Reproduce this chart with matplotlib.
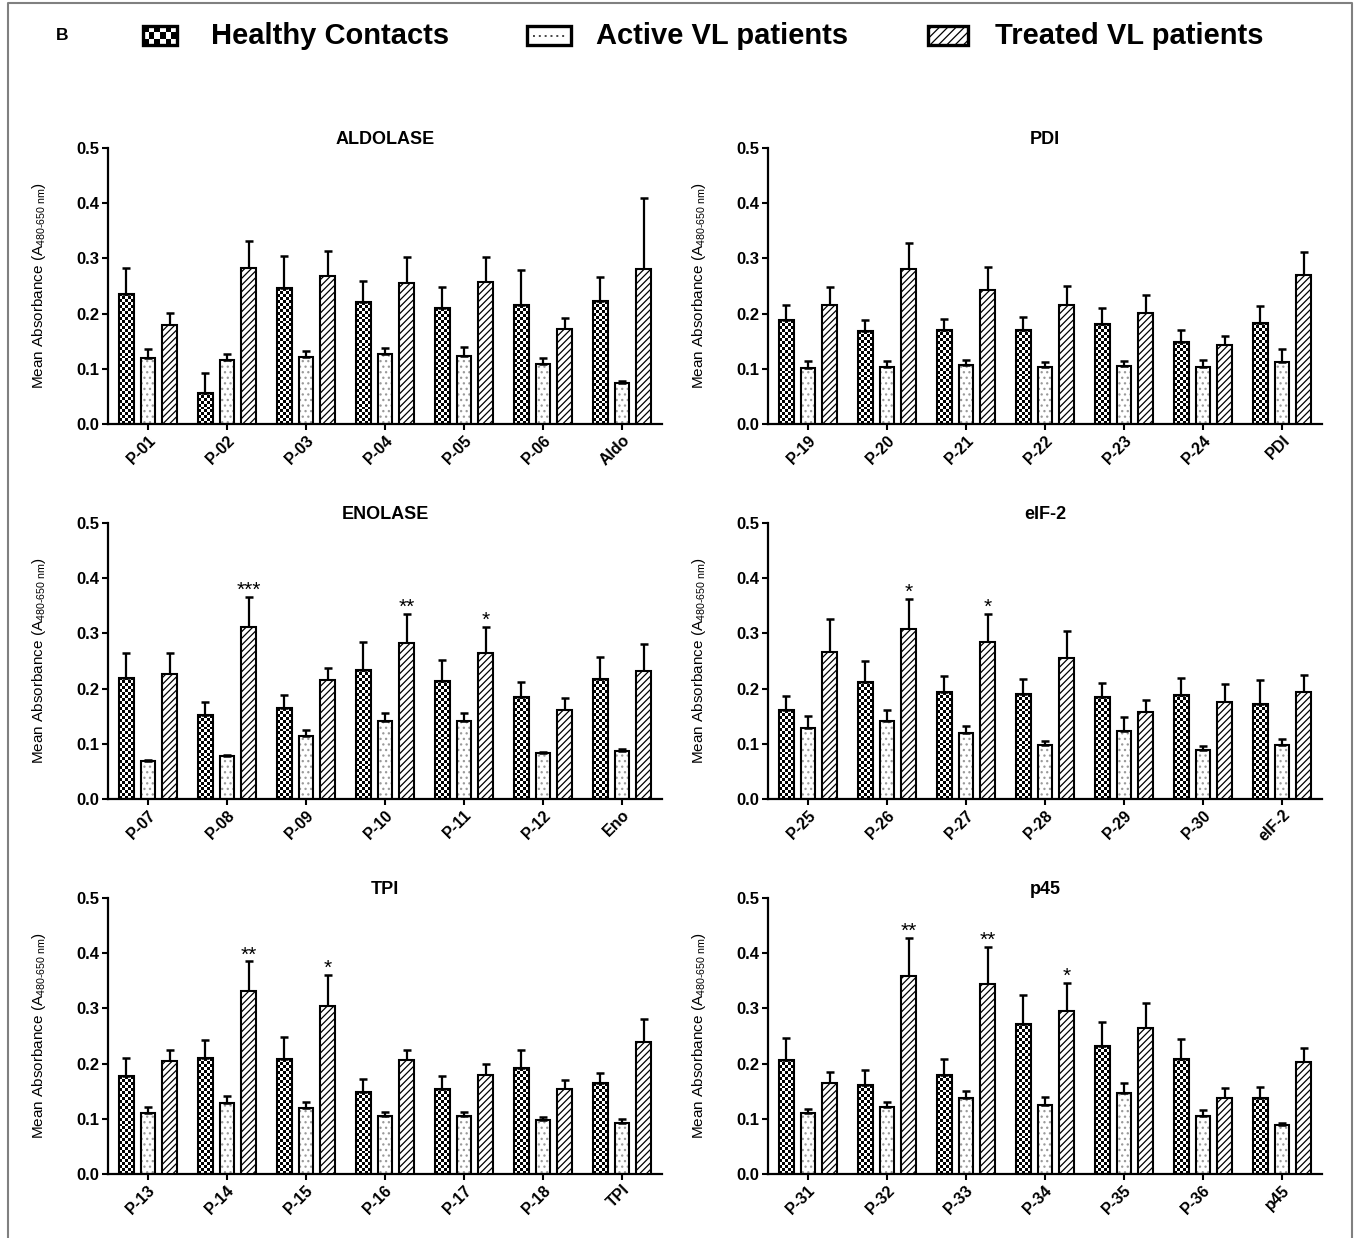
import numpy as np
import matplotlib
matplotlib.use('Agg')
import matplotlib.pyplot as plt
from matplotlib.patches import Rectangle
from matplotlib.lines import Line2D

plt.rcParams['font.family'] = ['Liberation Sans', 'DejaVu Sans']
plt.rcParams['mathtext.fontset'] = 'custom'
plt.rcParams['mathtext.rm'] = 'Liberation Sans'
plt.rcParams['mathtext.it'] = 'Liberation Sans:italic'
plt.rcParams['mathtext.bf'] = 'Liberation Sans:bold'
plt.rcParams['hatch.linewidth'] = 0.9

# ---- data (mean absorbance and SEM) ----
aldo_labels = ['P-01', 'P-02', 'P-03', 'P-04', 'P-05', 'P-06', 'Aldo']
aldo_hc = [0.236, 0.057, 0.246, 0.221, 0.210, 0.215, 0.222]
aldo_hc_sem = [0.047, 0.036, 0.058, 0.038, 0.038, 0.064, 0.045]
aldo_av = [0.119, 0.116, 0.121, 0.126, 0.124, 0.108, 0.075]
aldo_av_sem = [0.017, 0.011, 0.012, 0.011, 0.015, 0.012, 0.002]
aldo_tr = [0.179, 0.282, 0.269, 0.256, 0.257, 0.172, 0.281]
aldo_tr_sem = [0.022, 0.049, 0.045, 0.046, 0.046, 0.020, 0.128]
aldo_stars = ['', '', '', '', '', '', '']

pdi_labels = ['P-19', 'P-20', 'P-21', 'P-22', 'P-23', 'P-24', 'PDI']
pdi_hc = [0.188, 0.168, 0.171, 0.171, 0.182, 0.148, 0.183]
pdi_hc_sem = [0.027, 0.021, 0.020, 0.023, 0.029, 0.022, 0.030]
pdi_av = [0.101, 0.104, 0.106, 0.103, 0.105, 0.103, 0.113]
pdi_av_sem = [0.013, 0.010, 0.010, 0.009, 0.010, 0.013, 0.023]
pdi_tr = [0.215, 0.280, 0.242, 0.215, 0.201, 0.143, 0.270]
pdi_tr_sem = [0.033, 0.047, 0.042, 0.035, 0.032, 0.017, 0.042]
pdi_stars = ['', '', '', '', '', '', '']

eno_labels = ['P-07', 'P-08', 'P-09', 'P-10', 'P-11', 'P-12', 'Eno']
eno_hc = [0.220, 0.152, 0.164, 0.234, 0.214, 0.185, 0.218]
eno_hc_sem = [0.045, 0.024, 0.025, 0.051, 0.038, 0.027, 0.039]
eno_av = [0.068, 0.077, 0.115, 0.141, 0.141, 0.083, 0.087]
eno_av_sem = [0.002, 0.002, 0.010, 0.014, 0.015, 0.003, 0.003]
eno_tr = [0.227, 0.312, 0.215, 0.282, 0.265, 0.161, 0.232]
eno_tr_sem = [0.038, 0.054, 0.023, 0.054, 0.047, 0.022, 0.048]
eno_stars = ['', '***', '', '**', '*', '', '']

eif_labels = ['P-25', 'P-26', 'P-27', 'P-28', 'P-29', 'P-30', 'eIF-2']
eif_hc = [0.161, 0.212, 0.193, 0.190, 0.185, 0.189, 0.172]
eif_hc_sem = [0.025, 0.038, 0.029, 0.028, 0.026, 0.030, 0.043]
eif_av = [0.128, 0.141, 0.120, 0.098, 0.123, 0.088, 0.097]
eif_av_sem = [0.022, 0.020, 0.012, 0.007, 0.025, 0.008, 0.011]
eif_tr = [0.266, 0.308, 0.285, 0.255, 0.158, 0.175, 0.193]
eif_tr_sem = [0.060, 0.055, 0.051, 0.050, 0.022, 0.033, 0.031]
eif_stars = ['', '*', '*', '', '', '', '']

tpi_labels = ['P-13', 'P-14', 'P-15', 'P-16', 'P-17', 'P-18', 'TPI']
tpi_hc = [0.177, 0.210, 0.208, 0.148, 0.154, 0.192, 0.164]
tpi_hc_sem = [0.033, 0.033, 0.040, 0.024, 0.023, 0.032, 0.019]
tpi_av = [0.110, 0.128, 0.119, 0.105, 0.105, 0.097, 0.093]
tpi_av_sem = [0.011, 0.013, 0.011, 0.007, 0.008, 0.007, 0.007]
tpi_tr = [0.205, 0.331, 0.304, 0.207, 0.180, 0.154, 0.239]
tpi_tr_sem = [0.020, 0.054, 0.057, 0.018, 0.020, 0.017, 0.041]
tpi_stars = ['', '**', '*', '', '', '', '']

p45_labels = ['P-31', 'P-32', 'P-33', 'P-34', 'P-35', 'P-36', 'p45']
p45_hc = [0.207, 0.161, 0.179, 0.272, 0.231, 0.209, 0.138]
p45_hc_sem = [0.040, 0.027, 0.030, 0.053, 0.044, 0.036, 0.020]
p45_av = [0.111, 0.121, 0.137, 0.125, 0.146, 0.105, 0.088]
p45_av_sem = [0.007, 0.009, 0.013, 0.014, 0.018, 0.011, 0.005]
p45_tr = [0.164, 0.359, 0.345, 0.296, 0.264, 0.137, 0.203]
p45_tr_sem = [0.021, 0.069, 0.067, 0.050, 0.045, 0.018, 0.026]
p45_stars = ['', '**', '**', '*', '', '', '']

legend_names = ['Healthy Contacts', 'Active VL patients', 'Treated VL patients']

W, H = 1357, 1238
fig = plt.figure(figsize=(W / 100, H / 100), dpi=100)

# overlay for frame + legend (pixel coords)
ov = fig.add_axes([0, 0, 1, 1])
ov.set_xlim(0, W)
ov.set_ylim(H, 0)
ov.axis('off')
ov.plot([8, 8, 1352, 1352], [H, 3, 3, H], color='#808080', lw=1.5)
ov.text(62, 36, 'B', fontsize=12.5, fontweight='bold', ha='center', va='center')


def checker(ax, x0, x1, y0, y1, ncols, nrows, z=1):
    img = np.indices((nrows, ncols)).sum(axis=0) % 2
    ax.imshow(img, cmap='gray', vmin=0, vmax=1, extent=(x0, x1, y0, y1),
              aspect='auto', interpolation='nearest', zorder=z)


# legend icons
checker(ov, 143, 177, 45, 26, 6, 3, z=2)
ov.add_patch(Rectangle((143, 26), 34, 19, fc='none', ec='black', lw=2.4, zorder=3))
ov.add_patch(Rectangle((527, 26), 44, 19, fc='white', ec='black', lw=2.4, zorder=3))
ov.add_line(Line2D([533, 566], [35.5, 35.5], color='#444444', lw=1.4, ls=(0, (1, 2)), zorder=4))
ov.add_patch(Rectangle((928, 26), 40, 19, fc='white', ec='black', lw=2.4, hatch='////', zorder=3))
for xt, name in zip([211, 596, 995], legend_names):
    ov.text(xt, 36, name, fontsize=21, fontweight='bold', ha='left', va='center')

ylab = r'Mean Absorbance (A$_{\mathregular{480\text{-}650\ nm}}$)'

offs = 0.274
bw = 0.186


def draw_panel(ax, title, labels, hc, hc_sem, av, av_sem, tr, tr_sem, stars):
    x = np.arange(len(labels))
    hc = np.array(hc)
    av = np.array(av)
    tr = np.array(tr)
    bb = ax.get_position()
    px_x = bb.width * W / 7.012
    px_y = bb.height * H / 0.5

    # healthy contacts: checkerboard fill
    for xi, v in zip(x - offs, hc):
        cell = bw * px_x / 5
        nrows = max(1, int(round(v * px_y / cell)))
        checker(ax, xi - bw / 2, xi + bw / 2, 0, v, 5, nrows)
    ax.bar(x - offs, hc, bw, facecolor='none', edgecolor='black', lw=1.5, zorder=3)

    # active VL: sparse grey dots
    ax.bar(x, av, bw, facecolor='white', edgecolor='#9a9a9a', hatch='...', lw=0, zorder=2)
    ax.bar(x, av, bw, facecolor='none', edgecolor='black', lw=1.5, zorder=3)

    # treated VL: diagonal hatch
    ax.bar(x + offs, tr, bw, facecolor='white', edgecolor='black', hatch='/////', lw=1.5, zorder=3)

    for xs, vals, sem in [(x - offs, hc, hc_sem), (x, av, av_sem), (x + offs, tr, tr_sem)]:
        ax.errorbar(xs, vals, yerr=[np.zeros(len(vals)), sem], fmt='none', ecolor='black',
                    elinewidth=1.6, capsize=2.6, capthick=1.8, zorder=2.5)

    for xi, v, s, st in zip(x + offs, tr, tr_sem, stars):
        if st:
            ax.annotate(st, xy=(xi, v + s), xytext=(0, 0.5), textcoords='offset points',
                        ha='center', va='baseline', fontsize=15)

    ax.set_xlim(-0.506, 6.506)
    ax.set_ylim(0, 0.5)
    ax.set_yticks([0.0, 0.1, 0.2, 0.3, 0.4, 0.5])
    ax.set_yticklabels(['0.0', '0.1', '0.2', '0.3', '0.4', '0.5'], fontsize=12, fontweight='bold')
    ax.set_xticks(x)
    ax.set_xticklabels(labels, rotation=45, ha='right', va='top', rotation_mode='anchor',
                       fontsize=11.5, fontweight='bold')
    for side in ['top', 'right']:
        ax.spines[side].set_visible(False)
    for side in ['left', 'bottom']:
        ax.spines[side].set_linewidth(1.6)
    ax.tick_params(axis='both', direction='out', length=4, width=1.5, pad=2)
    ax.set_title(title, fontsize=13, fontweight='bold', pad=3)
    ax.set_ylabel(ylab, fontsize=11)
    ax.yaxis.set_label_coords(-0.108, 0.5)


lefts = [108 / W, 768 / W]
aw = 554 / W
ah = 276 / H
bottoms = [1 - 424 / H, 1 - 799 / H, 1 - 1174 / H]

panels = [
    (0, 0, 'ALDOLASE', aldo_labels, aldo_hc, aldo_hc_sem, aldo_av, aldo_av_sem, aldo_tr, aldo_tr_sem, aldo_stars),
    (1, 0, 'PDI', pdi_labels, pdi_hc, pdi_hc_sem, pdi_av, pdi_av_sem, pdi_tr, pdi_tr_sem, pdi_stars),
    (0, 1, 'ENOLASE', eno_labels, eno_hc, eno_hc_sem, eno_av, eno_av_sem, eno_tr, eno_tr_sem, eno_stars),
    (1, 1, 'eIF-2', eif_labels, eif_hc, eif_hc_sem, eif_av, eif_av_sem, eif_tr, eif_tr_sem, eif_stars),
    (0, 2, 'TPI', tpi_labels, tpi_hc, tpi_hc_sem, tpi_av, tpi_av_sem, tpi_tr, tpi_tr_sem, tpi_stars),
    (1, 2, 'p45', p45_labels, p45_hc, p45_hc_sem, p45_av, p45_av_sem, p45_tr, p45_tr_sem, p45_stars),
]

for col, row, *args in panels:
    ax = fig.add_axes([lefts[col], bottoms[row], aw, ah])
    draw_panel(ax, *args)

fig.savefig('out.png', dpi=100)
